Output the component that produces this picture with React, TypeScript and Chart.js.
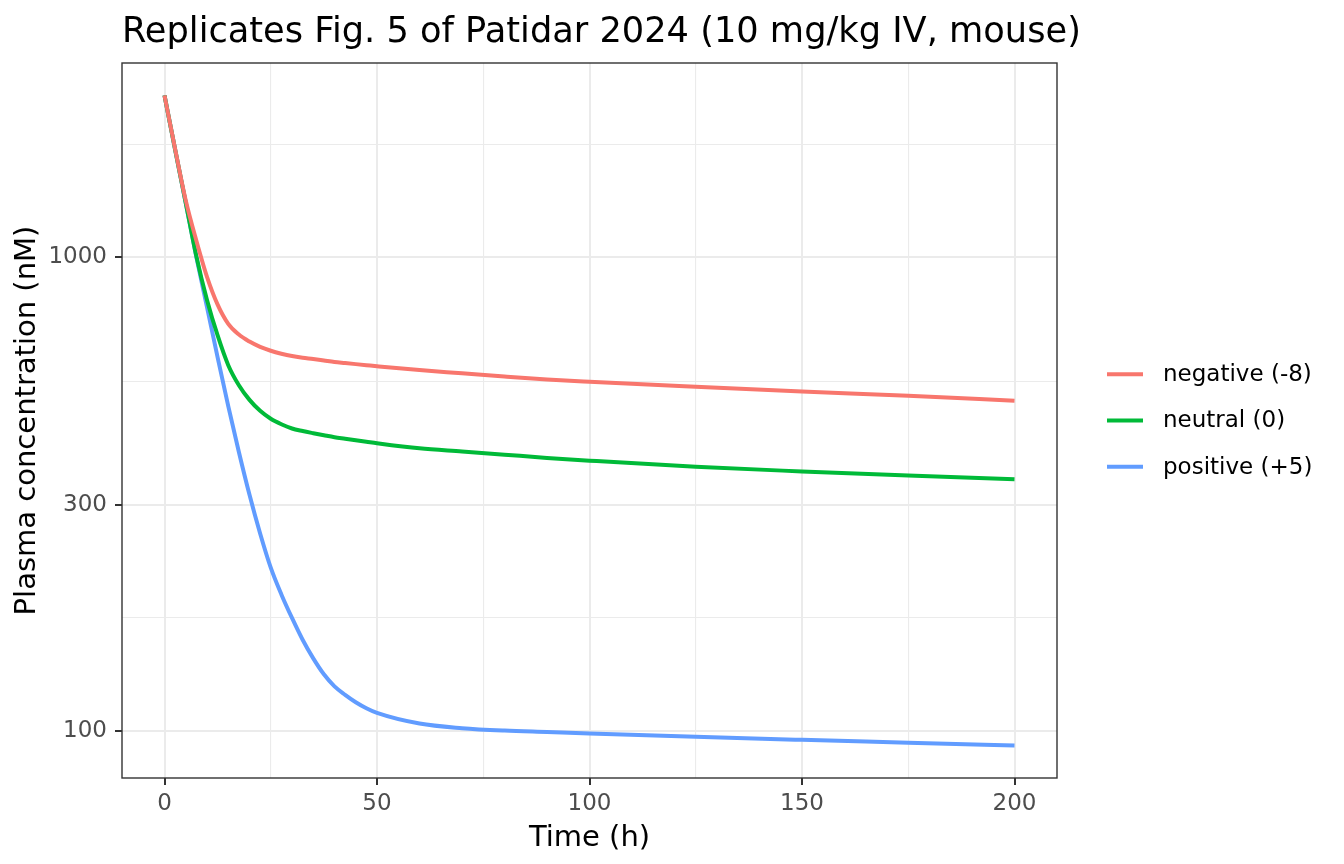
import React, { useEffect, useRef } from 'react';
import { Chart, registerables } from 'chart.js';

Chart.register(...registerables);

// values (time in h, concentration in nM)
const timeH = [0, 2.5, 5, 7.5, 10, 12.5, 15, 17.5, 20, 22.5, 25, 27.5, 30, 32.5, 35, 37.5, 40, 42.5, 45, 47.5, 50, 60, 70, 80, 90, 100, 125, 150, 175, 200];
const negative = [2200, 1695, 1320, 1085, 910, 795, 724, 687, 664, 647, 635, 626, 619, 614, 610, 605.5, 601, 598, 595, 592, 589, 578, 569, 560, 552, 546, 533, 521, 510, 498];
const neutral = [2200, 1690, 1305, 1005, 813, 684, 592, 537, 500, 474, 456, 444, 435, 429.7, 425.2, 421, 417, 414, 411, 408, 405, 395, 389, 383, 377, 372, 361, 353, 346, 340];
const positive = [2200, 1690, 1303, 1002, 785, 615, 485, 388, 315, 261, 221, 194, 173, 155.6, 142.1, 131.5, 124, 119, 114.8, 111.5, 109, 103.5, 101.2, 100, 99.3, 98.6, 97.0, 95.6, 94.3, 93.0];

const seriesLabels = ['negative (-8)', 'neutral (0)', 'positive (+5)'];
const seriesColors = ['#F8766D', '#00BA38', '#619CFF'];

const xMajor = [0, 50, 100, 150, 200];
const xMinor = [25, 75, 125, 175];
const yMajor = [100, 300, 1000];
const yMinor = [173.2, 547.7, 1732];

const titleText = 'Replicates Fig. 5 of Patidar 2024 (10 mg/kg IV, mouse)';
const FONT = '"DejaVu Sans", "Liberation Sans", sans-serif';

const isMajor = (list: number[], v: number) => list.some((m) => Math.abs(m - v) < 1e-6);

// title, legend and panel border drawn like ggplot's theme_bw
const ggOverlay = {
  id: 'ggOverlay',
  afterDatasetsDraw(chart: any) {
    const { ctx, chartArea: a } = chart;
    ctx.save();
    ctx.strokeStyle = '#333333';
    ctx.lineWidth = 1.4;
    ctx.strokeRect(a.left, a.top, a.right - a.left, a.bottom - a.top);
    ctx.restore();
  },
  afterDraw(chart: any) {
    const { ctx, chartArea: a } = chart;
    ctx.save();
    ctx.fillStyle = '#000000';
    ctx.font = `35.2px ${FONT}`;
    ctx.textBaseline = 'alphabetic';
    ctx.textAlign = 'left';
    ctx.fillText(titleText, a.left, 42);

    const mid = (a.top + a.bottom) / 2;
    const rowGap = 46.2;
    const x0 = a.right + 50;
    chart.data.datasets.forEach((ds: any, i: number) => {
      const y = mid + (i - 1) * rowGap;
      ctx.strokeStyle = ds.borderColor;
      ctx.lineWidth = 4;
      ctx.beginPath();
      ctx.moveTo(x0, y);
      ctx.lineTo(x0 + 36, y);
      ctx.stroke();
      ctx.fillStyle = '#000000';
      ctx.font = `23px ${FONT}`;
      ctx.textBaseline = 'middle';
      ctx.fillText(ds.label, x0 + 56, y + 1);
    });
    ctx.restore();
  },
};

export default function App() {
  const canvasRef = useRef<HTMLCanvasElement>(null);
  const chartRef = useRef<Chart | null>(null);

  useEffect(() => {
    document.body.style.margin = '0';
    if (!canvasRef.current) return;
    if (chartRef.current) chartRef.current.destroy();

    Chart.defaults.font.family = FONT;

    const series = [negative, neutral, positive];
    const gridColor = '#EBEBEB';

    chartRef.current = new Chart(canvasRef.current, {
      type: 'line',
      data: {
        datasets: series.map((vals, i) => ({
          label: seriesLabels[i],
          data: timeH.map((t, j) => ({ x: t, y: vals[j] })),
          borderColor: seriesColors[i],
          backgroundColor: seriesColors[i],
          borderWidth: 4,
          pointRadius: 0,
          cubicInterpolationMode: 'monotone' as const,
          fill: false,
        })),
      },
      options: {
        animation: false,
        responsive: true,
        maintainAspectRatio: false,
        layout: { padding: { left: 0, top: 63, right: 287, bottom: 0 } },
        plugins: {
          legend: { display: false },
          tooltip: { enabled: false },
          title: { display: false },
        },
        scales: {
          x: {
            type: 'linear',
            min: -10,
            max: 210,
            afterBuildTicks: (scale: any) => {
              scale.ticks = [...xMajor, ...xMinor].sort((p, q) => p - q).map((v) => ({ value: v }));
            },
            afterFit: (scale: any) => {
              scale.height = 86;
            },
            ticks: {
              autoSkip: false,
              maxRotation: 0,
              padding: 5,
              color: '#4D4D4D',
              font: { size: 23 },
              callback: (v: any) => (isMajor(xMajor, Number(v)) ? String(v) : ''),
            },
            grid: {
              color: gridColor,
              lineWidth: (c: any) => (c.tick && isMajor(xMajor, c.tick.value) ? 2 : 1.1),
              drawTicks: true,
              tickLength: 7,
              tickWidth: 2,
              tickColor: (c: any) => (c.tick && isMajor(xMajor, c.tick.value) ? '#333333' : 'rgba(0,0,0,0)'),
            },
            border: { display: false },
            title: {
              display: true,
              text: 'Time (h)',
              color: '#000000',
              font: { size: 29 },
              padding: { top: 0, bottom: 8 },
            },
          },
          y: {
            type: 'logarithmic',
            min: 79.4,
            max: 2576,
            afterBuildTicks: (scale: any) => {
              scale.ticks = [...yMajor, ...yMinor].sort((p, q) => p - q).map((v) => ({ value: v }));
            },
            afterFit: (scale: any) => {
              scale.width = 122;
            },
            ticks: {
              autoSkip: false,
              padding: 8,
              color: '#4D4D4D',
              font: { size: 23 },
              callback: (v: any) => (isMajor(yMajor, Number(v)) ? String(v) : ''),
            },
            grid: {
              color: gridColor,
              lineWidth: (c: any) => (c.tick && isMajor(yMajor, c.tick.value) ? 2 : 1.1),
              drawTicks: true,
              tickLength: 7,
              tickWidth: 2,
              tickColor: (c: any) => (c.tick && isMajor(yMajor, c.tick.value) ? '#333333' : 'rgba(0,0,0,0)'),
            },
            border: { display: false },
            title: {
              display: true,
              text: 'Plasma concentration (nM)',
              color: '#000000',
              font: { size: 29 },
              padding: { top: 10, bottom: 0 },
            },
          },
        },
      },
      plugins: [ggOverlay],
    });

    return () => {
      if (chartRef.current) {
        chartRef.current.destroy();
        chartRef.current = null;
      }
    };
  }, []);

  return (
    <div style={{ position: 'relative', width: '1344px', height: '864px', background: '#ffffff' }}>
      <canvas ref={canvasRef} />
    </div>
  );
}
